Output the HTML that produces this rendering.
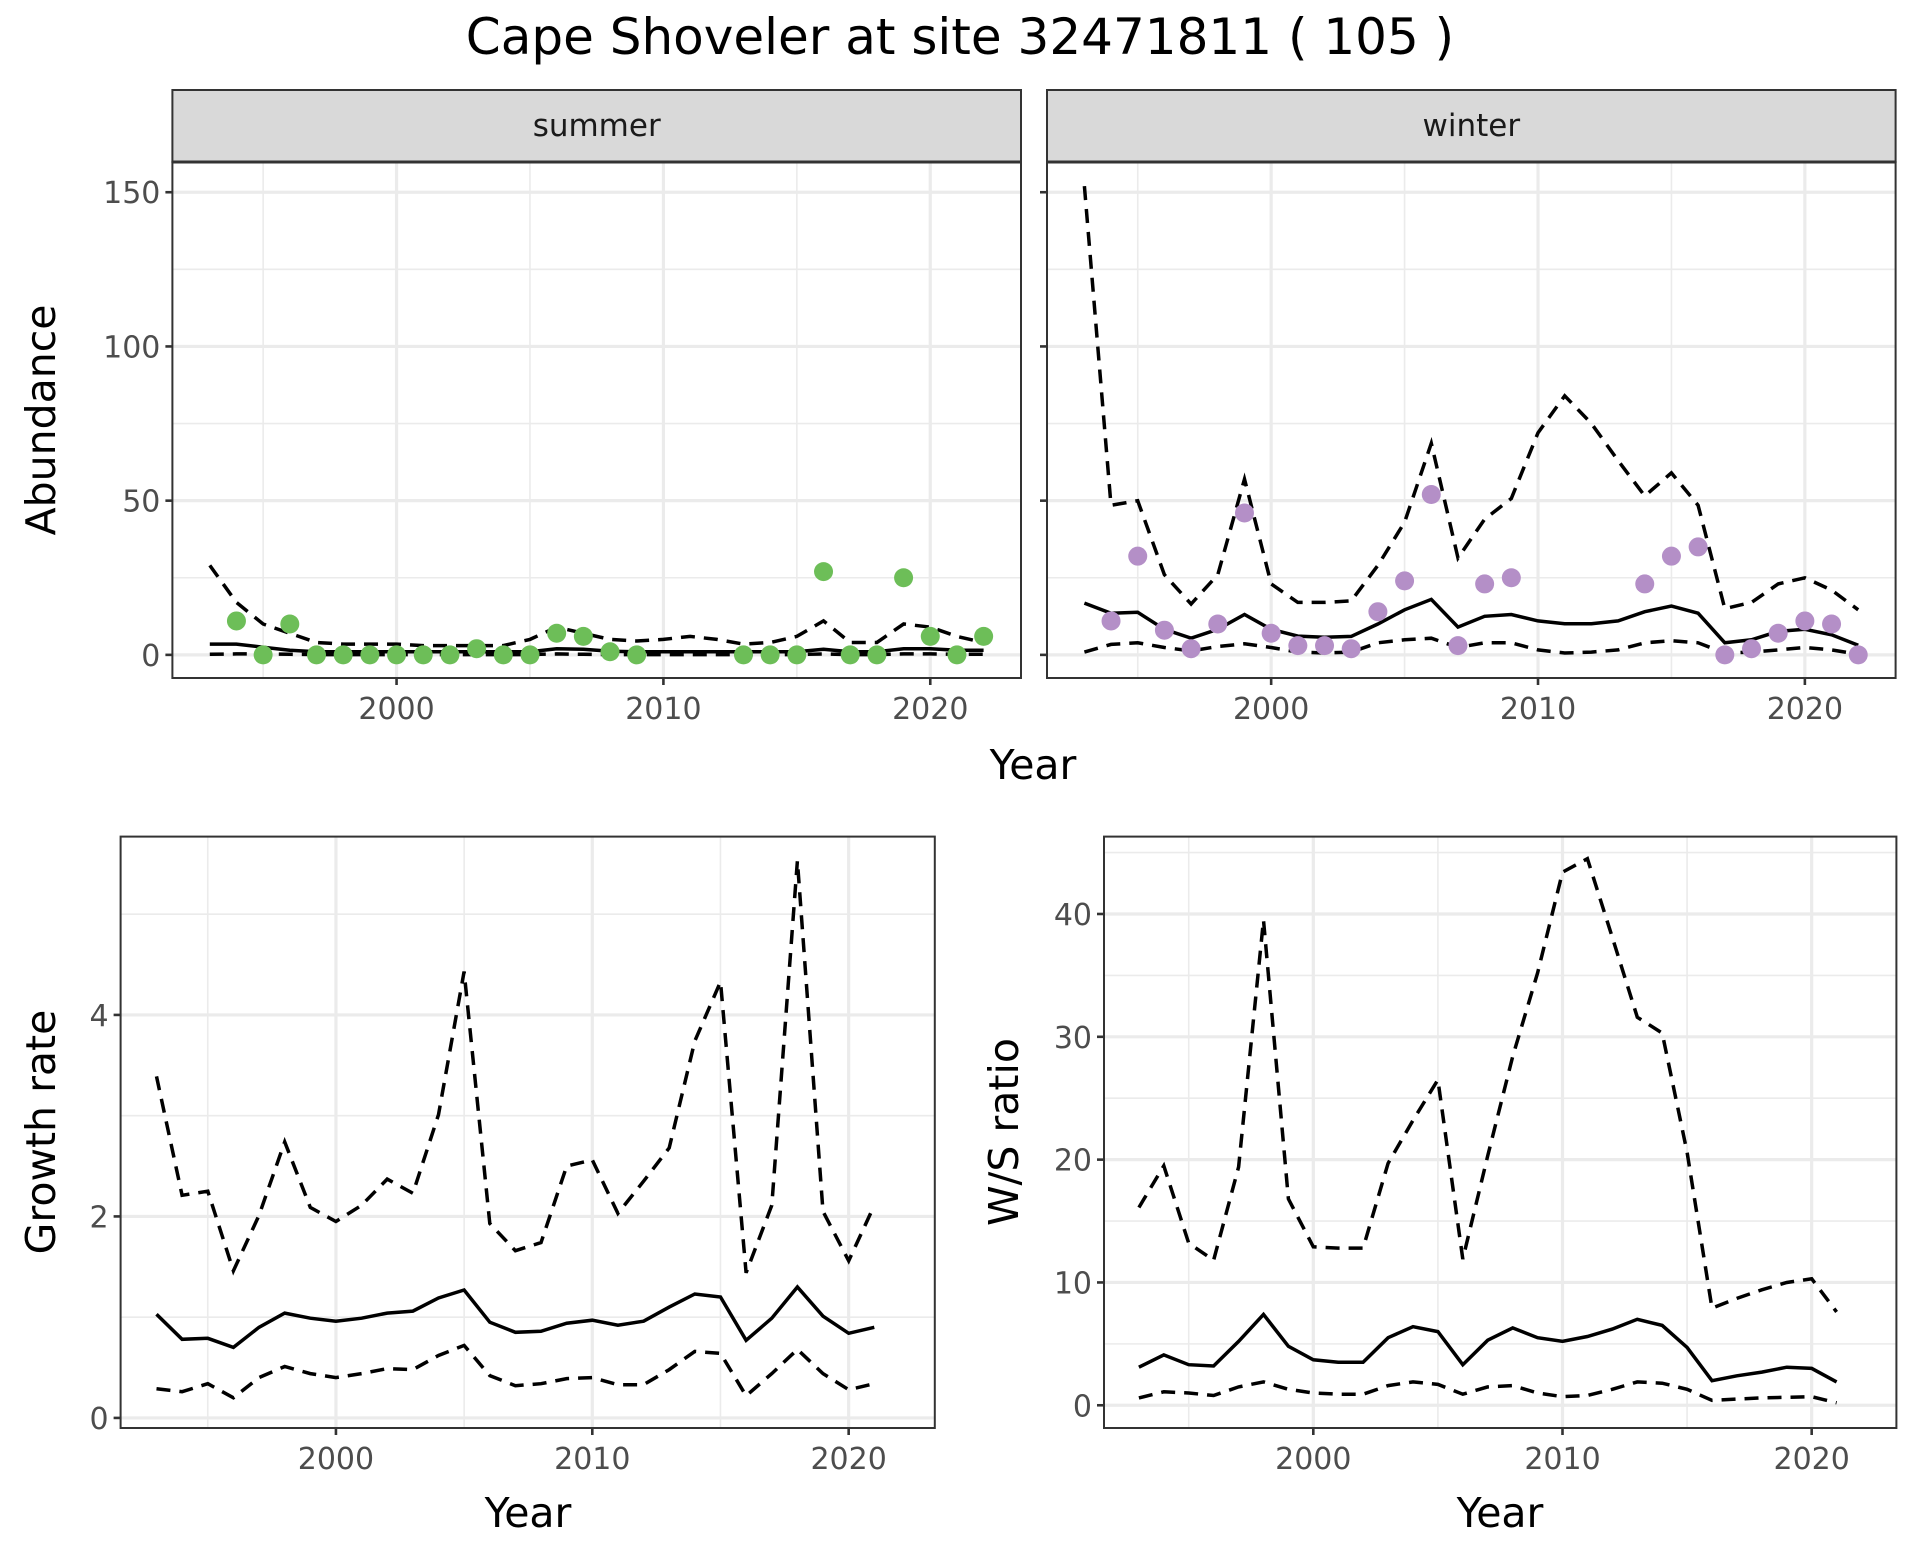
<!DOCTYPE html>
<html><head><meta charset="utf-8"><style>
html,body{margin:0;padding:0;background:#fff;}
svg{display:block;font-family:"DejaVu Sans","Liberation Sans",sans-serif;}
</style></head><body>
<svg id="chart" width="1920" height="1560" viewBox="0 0 1920 1560" xmlns="http://www.w3.org/2000/svg">
<rect width="1920" height="1560" fill="#fff"/>
<text x="960" y="54" font-size="50" text-anchor="middle" fill="#000">Cape Shoveler at site 32471811 ( 105 )</text>
</svg>
<script>
// ---- data ----
const summerYears = [1993,1994,1995,1996,1997,1998,1999,2000,2001,2002,2003,2004,2005,2006,2007,2008,2009,2010,2011,2012,2013,2014,2015,2016,2017,2018,2019,2020,2021,2022];
const summerUpper = [29,17,10,7,4,3.5,3.5,3.5,3,3,3,3,5,9,7,5,4.5,5,6,5,3.5,4,6,11,4,4,10,9,6,4];
const summerMid = [3.5,3.5,2.5,1.5,1,1,1,1,1,1,1,1,1,2,1.8,1.2,1,1,1,1,1,1,1,1.8,1,1,2,2,1.5,1.5];
const summerLower = [0.2,0.3,0.3,0.2,0.1,0.1,0.1,0.1,0.1,0.1,0.1,0.1,0.1,0.3,0.2,0.1,0.1,0.1,0.1,0.1,0.1,0.1,0.1,0.3,0.1,0.1,0.3,0.3,0.2,0.2];
const summerPtYears = [1994,1995,1996,1997,1998,1999,2000,2001,2002,2003,2004,2005,2006,2007,2008,2009,2013,2014,2015,2016,2017,2018,2019,2020,2021,2022];
const summerCounts = [11,0,10,0,0,0,0,0,0,2,0,0,7,6,1,0,0,0,0,27,0,0,25,6,0,6];

const winterYears = summerYears;
const winterUpper = [152,48.5,50,26,16.5,26,57,23,17,17,17.5,29,43,68.6,31.4,44,50.7,72,84,75,63,51.5,59,48.5,15,17,23,25,21,14.6];
const winterMid = [16.8,13.5,13.8,8.3,5.4,8.3,13.1,8.3,6.1,5.7,6,10,14.6,18,9,12.5,13.1,11,10.1,10.1,11,14,15.8,13.5,3.9,4.9,7.6,8.3,6.5,3.1];
const winterLower = [0.9,3.4,3.9,2.4,1.3,2.7,3.6,2.4,0.9,0.6,0.9,3.9,4.9,5.4,2.4,3.9,3.9,1.6,0.6,0.9,1.6,3.9,4.6,3.9,0.6,0.9,1.6,2.4,1.6,0.2];
const winterPtYears = [1994,1995,1996,1997,1998,1999,2000,2001,2002,2003,2004,2005,2006,2007,2008,2009,2014,2015,2016,2017,2018,2019,2020,2021,2022];
const winterCounts = [11,32,8,2,10,46,7,3,3,2,14,24,52,3,23,25,23,32,35,0,2,7,11,10,0];

const growthYears = [1993,1994,1995,1996,1997,1998,1999,2000,2001,2002,2003,2004,2005,2006,2007,2008,2009,2010,2011,2012,2013,2014,2015,2016,2017,2018,2019,2020,2021];
const growthMid = [1.03,0.78,0.79,0.70,0.90,1.04,0.99,0.96,0.99,1.04,1.06,1.19,1.27,0.95,0.85,0.86,0.94,0.97,0.92,0.96,1.10,1.23,1.20,0.77,0.99,1.30,1.01,0.84,0.90];
const growthUpper = [3.39,2.21,2.25,1.46,2.01,2.74,2.09,1.95,2.11,2.37,2.23,3.01,4.43,1.93,1.66,1.74,2.50,2.56,2.03,2.35,2.68,3.74,4.33,1.44,2.11,5.53,2.05,1.56,2.11];
const growthLower = [0.29,0.26,0.34,0.20,0.40,0.51,0.44,0.40,0.44,0.49,0.48,0.62,0.72,0.42,0.32,0.34,0.39,0.40,0.33,0.33,0.48,0.66,0.64,0.22,0.44,0.68,0.44,0.28,0.34];

const ratioYears = growthYears;
const ratioMid = [3.1,4.1,3.3,3.2,5.2,7.4,4.8,3.7,3.5,3.5,5.5,6.4,6.0,3.3,5.3,6.3,5.5,5.2,5.6,6.2,7.0,6.5,4.7,2.0,2.4,2.7,3.1,3.0,1.9];
const ratioUpper = [16.1,19.5,13.2,11.8,19.4,39.5,16.8,12.9,12.8,12.8,19.7,23.2,26.5,11.9,20.3,28.4,35.2,43.4,44.5,38.1,31.6,30.3,20.6,7.9,8.7,9.4,10.0,10.3,7.6];
const ratioLower = [0.6,1.1,1.0,0.8,1.5,1.9,1.3,1.0,0.9,0.9,1.6,1.9,1.7,0.9,1.5,1.6,1.0,0.7,0.8,1.3,1.9,1.8,1.3,0.4,0.5,0.6,0.65,0.7,0.2];

const abundTicks = [0,50,100,150];
const growthTicks = [0,2,4];
const ratioTicks = [0,10,20,30,40];
const yearTicks = [2000,2010,2020];

// ---- drawing ----
const NS = "http://www.w3.org/2000/svg";
const svg = document.getElementById('chart');
function mk(tag, attrs, parent){
  const e = document.createElementNS(NS, tag);
  for (const k in attrs) e.setAttribute(k, attrs[k]);
  (parent||svg).appendChild(e);
  return e;
}
function linScale(d0,d1,r0,r1){ return v => r0 + (v-d0)/(d1-d0)*(r1-r0); }

function panel(cfg){
  const g = mk('g', {});
  
  
  const {x0,x1,y0,y1} = cfg;
  const sx = linScale(cfg.xd[0], cfg.xd[1], x0, x1);
  const sy = linScale(cfg.yd[0], cfg.yd[1], y1, y0);
  mk('rect', {x:x0,y:y0,width:x1-x0,height:y1-y0,fill:'#fff'}, g);
  cfg.yMinor.forEach(v=>{ const y=sy(v); mk('line',{x1:x0,x2:x1,y1:y,y2:y,stroke:'#ebebeb','stroke-width':1.6},g); });
  [1995,2005,2015].forEach(v=>{ const x=sx(v); mk('line',{x1:x,x2:x,y1:y0,y2:y1,stroke:'#ebebeb','stroke-width':1.6},g); });
  cfg.yTicks.forEach(v=>{ const y=sy(v); mk('line',{x1:x0,x2:x1,y1:y,y2:y,stroke:'#ebebeb','stroke-width':3.2},g); });
  yearTicks.forEach(v=>{ const x=sx(v); mk('line',{x1:x,x2:x,y1:y0,y2:y1,stroke:'#ebebeb','stroke-width':3.2},g); });
  const path = (ys, vals) => ys.map((yr,i)=>(i?'L':'M')+sx(yr).toFixed(1)+','+sy(vals[i]).toFixed(1)).join(' ');
  const up = mk('path',{d:path(cfg.years,cfg.upper),fill:'none',stroke:'#000','stroke-width':3.5,'stroke-dasharray':'14 9'},g);
  
  
  const lo = mk('path',{d:path(cfg.years,cfg.lower),fill:'none',stroke:'#000','stroke-width':3.5,'stroke-dasharray':'14 9'},g);
  
  
  const mid = mk('path',{d:path(cfg.years,cfg.mid),fill:'none',stroke:'#000','stroke-width':3.5},g);
  
  
  if (cfg.ptYears){
    cfg.ptYears.forEach((yr,i)=>{
      const c = mk('circle',{cx:sx(yr),cy:sy(cfg.pts[i]),r:9.5,fill:cfg.ptColor},g);
      
      
    });
  }
  mk('rect',{x:x0,y:y0,width:x1-x0,height:y1-y0,fill:'none',stroke:'#333','stroke-width':2},g);
  if (cfg.strip){
    const s = mk('g',{},g);
    
    
    mk('rect',{x:x0,y:cfg.stripTop,width:x1-x0,height:y0-cfg.stripTop,fill:'#d9d9d9',stroke:'#333','stroke-width':2},s);
    mk('line',{x1:x0,x2:x1,y1:y0,y2:y0,stroke:'#333','stroke-width':3},s);
    const t = mk('text',{x:(x0+x1)/2,y:(cfg.stripTop+y0)/2+10,'font-size':31,'text-anchor':'middle',fill:'#1a1a1a'},s);
    t.textContent = cfg.strip;
  }
  yearTicks.forEach(v=>{
    const x=sx(v);
    mk('line',{x1:x,x2:x,y1:y1,y2:y1+7,stroke:'#333','stroke-width':2.6},g);
    const t = mk('text',{x:x,y:y1+41,'font-size':30,'text-anchor':'middle',fill:'#4d4d4d'},g);
    
    
    t.textContent = v;
  });
  cfg.yTicks.forEach(v=>{
    const y=sy(v);
    mk('line',{x1:x0-7,x2:x0,y1:y,y2:y,stroke:'#333','stroke-width':2.6},g);
    if (cfg.showY){
      const t = mk('text',{x:x0-12,y:y+11,'font-size':30,'text-anchor':'end',fill:'#4d4d4d'},g);
      
      
      t.textContent = v;
    }
  });
}

panel({name:'summer-panel',x0:172.4,x1:1021,y0:162,y1:678,xd:[1991.6,2023.4],yd:[-7.5,159.8],
  yTicks:abundTicks,yMinor:[25,75,125],years:summerYears,upper:summerUpper,mid:summerMid,lower:summerLower,
  ptYears:summerPtYears,pts:summerCounts,ptColor:'#6dbe58',strip:'summer',stripTop:90,showY:true});
panel({name:'winter-panel',x0:1047,x1:1895.6,y0:162,y1:678,xd:[1991.6,2023.4],yd:[-7.5,159.8],
  yTicks:abundTicks,yMinor:[25,75,125],years:winterYears,upper:winterUpper,mid:winterMid,lower:winterLower,
  ptYears:winterPtYears,pts:winterCounts,ptColor:'#b48fc7',strip:'winter',stripTop:90,showY:false});
panel({name:'growth-rate-panel',x0:120.6,x1:934.8,y0:836.6,y1:1428,xd:[1991.6,2023.36],yd:[-0.1,5.77],
  yTicks:growthTicks,yMinor:[1,3,5],years:growthYears,upper:growthUpper,mid:growthMid,lower:growthLower,showY:true});
panel({name:'ws-ratio-panel',x0:1104,x1:1896.4,y0:836.6,y1:1428,xd:[1991.6,2023.4],yd:[-1.85,46.3],
  yTicks:ratioTicks,yMinor:[5,15,25,35,45],years:ratioYears,upper:ratioUpper,mid:ratioMid,lower:ratioLower,showY:true});

function label(name, txt, x, y, rot){
  const t = mk('text',{x:x,y:y,'font-size':41,'text-anchor':'middle',fill:'#000'});
  if (rot) t.setAttribute('transform','rotate(-90 '+x+' '+y+')');
  
  
  t.textContent = txt;
}
label('top-x-axis-title','Year',1033,779,false);
label('abundance-y-axis-title','Abundance',55,420,true);
label('growth-x-axis-title','Year',528,1527,false);
label('growth-y-axis-title','Growth rate',55,1132,true);
label('ratio-x-axis-title','Year',1500,1527,false);
label('ratio-y-axis-title','W/S ratio',1018,1132,true);
</script>
</body></html>
